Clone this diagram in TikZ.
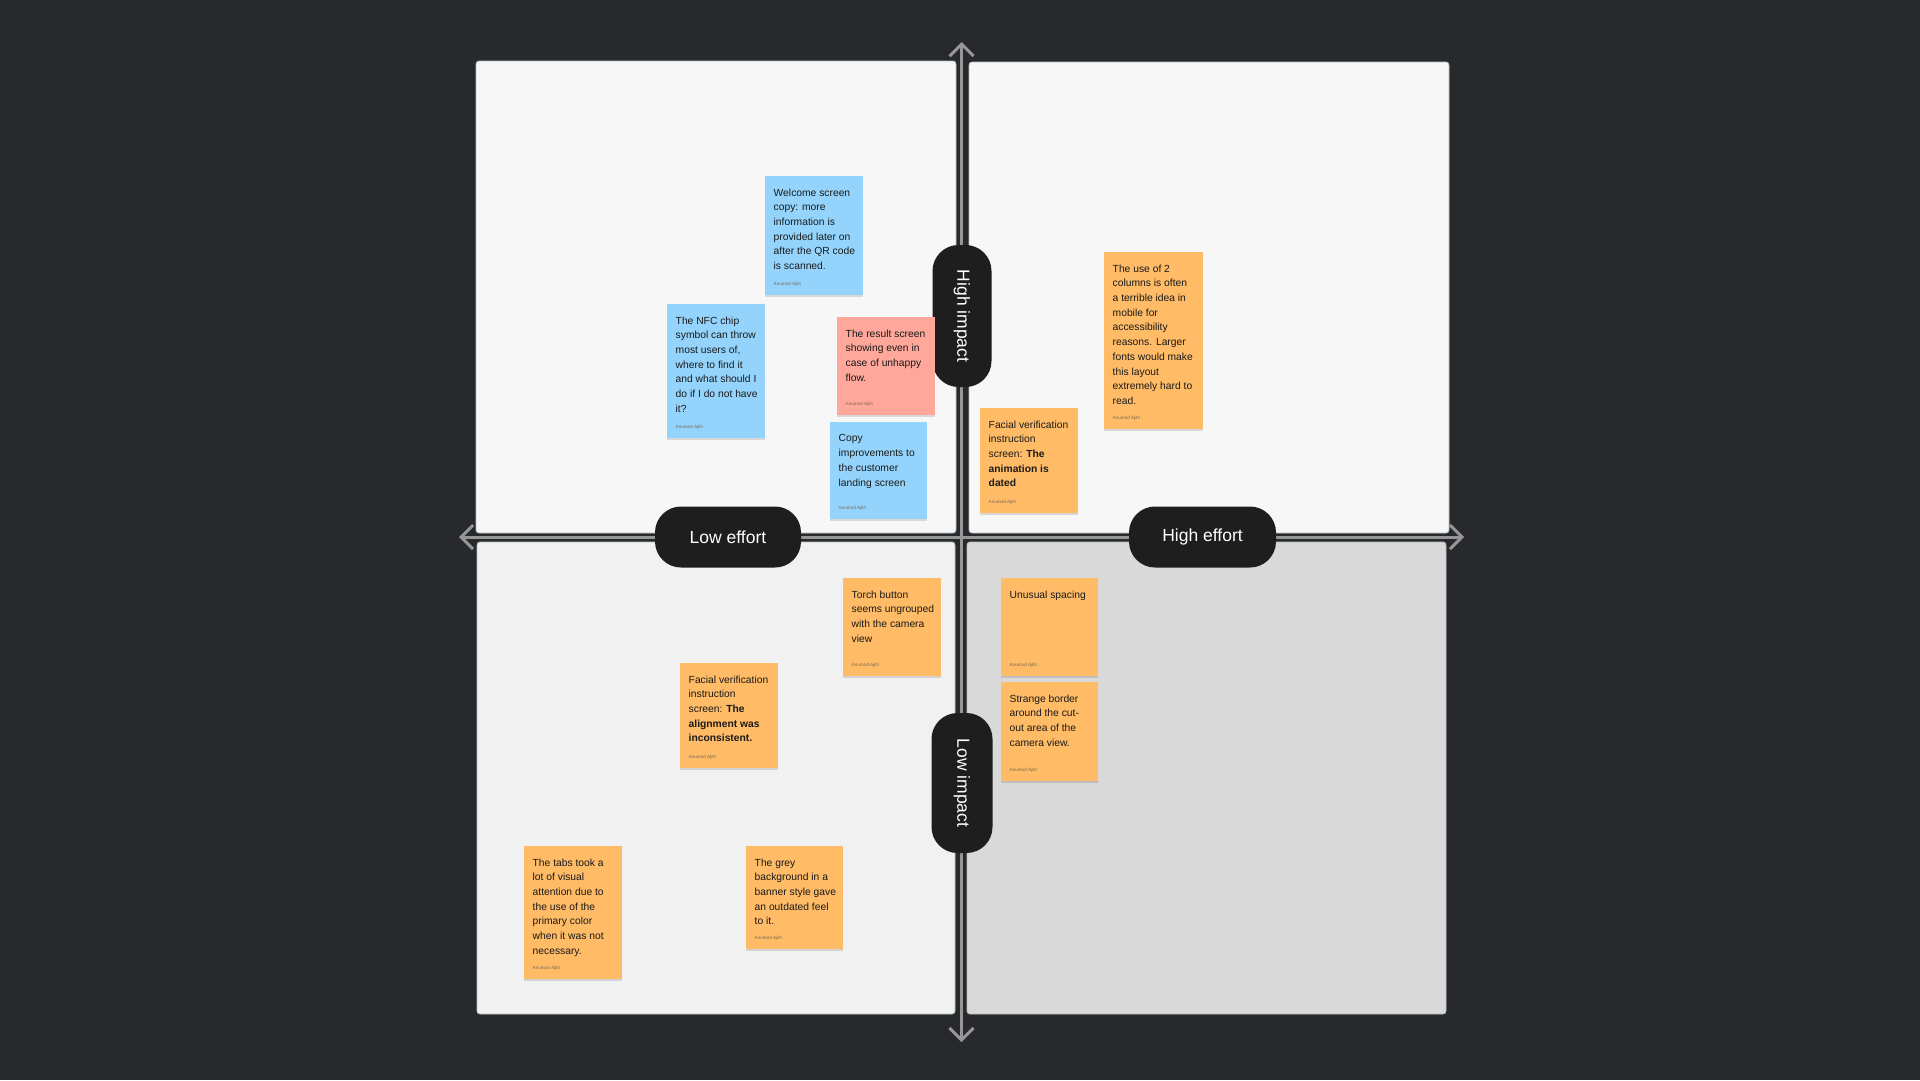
\documentclass[tikz,border=0pt]{standalone}
\usepackage{fontspec}
\setmainfont{Liberation Sans}
\usetikzlibrary{arrows.meta,shadows}
\definecolor{bgdark}{HTML}{27292D}
\definecolor{panelA}{HTML}{F7F7F7}
\definecolor{panelB}{HTML}{F1F1F1}
\definecolor{panelC}{HTML}{D9D9D9}
\definecolor{panelline}{HTML}{B4C2BC}
\definecolor{axisgray}{HTML}{969696}
\definecolor{pillfill}{HTML}{1E1E1E}
\definecolor{sblue}{HTML}{94D4FC}
\definecolor{sred}{HTML}{FFA79B}
\definecolor{sorange}{HTML}{FFBB66}
\definecolor{stext}{HTML}{1A1A1A}
\definecolor{sauthor}{HTML}{7A6A55}
\tikzset{
  panel/.style={fill=#1, draw=panelline, line width=0.8pt, rounded corners=3pt},
  axisline/.style={draw=axisgray, line width=3pt,
    {Straight Barb[length=12pt,width=24pt]}-{Straight Barb[length=12pt,width=24pt]}},
  pill/.style={fill=pillfill, rounded corners=26pt, text=white, inner sep=0pt,
    font=\fontsize{17.5}{20}\selectfont},
  sticky/.style={fill=#1, draw=none, inner sep=0pt, anchor=north west,
    drop shadow={shadow xshift=0pt, shadow yshift=-1.5pt, opacity=0.12, fill=black}},
  stickytext/.style={anchor=north west, inner sep=0pt, align=left, text=stext,
    font=\fontsize{10.3}{14.7}\selectfont},
  author/.style={anchor=west, inner sep=0pt, text=sauthor, font=\fontsize{4.6}{5}\selectfont},
}
\newcommand{\stickynote}[7]{%
  \node[sticky=#6, minimum width=#4pt, minimum height=#5pt] (#1) at (#2,#3) {};
  \node[stickytext] (#1-t) at ([shift={(8.5,12.5)}]#1.north west) {#7};
  \node[author] (#1-a) at ([shift={(8.5,-11)}]#1.south west) {Anumod Ajith};
}
\begin{document}
\begin{tikzpicture}[x=1pt,y=-1pt]
\fill[bgdark] (0,0) rectangle (1920,1080);
\useasboundingbox (0,0) rectangle (1920,1080);
% panels
\draw[panel=panelA] (476,61) rectangle (956,533);
\draw[panel=panelA] (969,62) rectangle (1449,533);
\draw[panel=panelB] (477,542) rectangle (955,1014);
\draw[panel=panelC] (967,542) rectangle (1446,1014);
% axes
\coordinate (vtop) at (961.5,42);
\coordinate (vbot) at (961.5,1042);
\coordinate (hleft) at (459,537);
\coordinate (hright) at (1464,537);
\draw[axisline] (vbot) -- (vtop);
\draw[axisline] (hleft) -- (hright);
% pills
\node[pill, minimum width=146pt, minimum height=61pt] (loweffort) at (728,537) {Low effort};
\node[pill, minimum width=147pt, minimum height=61pt] (higheffort) at (1202.5,537) {High effort};
\node[pill, rotate=-90, minimum width=142pt, minimum height=59pt] (highimpact) at (962,316) {High impact};
\node[pill, rotate=-90, minimum width=140pt, minimum height=61pt] (lowimpact) at (962,783) {Low impact};
% stickies
\stickynote{welcome}{765}{176}{98}{119}{sblue}{Welcome screen\\copy: more\\information is\\provided later on\\after the QR code\\is scanned.}
\stickynote{nfc}{667}{304}{98}{134}{sblue}{The NFC chip\\symbol can throw\\most users of,\\where to find it\\and what should I\\do if I do not have\\it?}
\stickynote{result}{837}{317}{98}{98}{sred}{The result screen\\showing even in\\case of unhappy\\flow.}
\stickynote{copy}{830}{422}{97}{97}{sblue}{Copy\\improvements to\\the customer\\landing screen}
\stickynote{facanim}{980}{408}{98}{105}{sorange}{Facial verification\\instruction\\screen: \textbf{The}\\\textbf{animation is}\\\textbf{dated}}
\stickynote{columns}{1104}{252}{99}{177}{sorange}{The use of 2\\columns is often\\a terrible idea in\\mobile for\\accessibility\\reasons. Larger\\fonts would make\\this layout\\extremely hard to\\read.}
\stickynote{torch}{843}{578}{98}{98}{sorange}{Torch button\\seems ungrouped\\with the camera\\view}
\stickynote{facalign}{680}{663}{98}{105}{sorange}{Facial verification\\instruction\\screen: \textbf{The}\\\textbf{alignment was}\\\textbf{inconsistent.}}
\stickynote{spacing}{1001}{578}{97}{98}{sorange}{Unusual spacing}
\stickynote{border}{1001}{682}{97}{99}{sorange}{Strange border\\around the cut-\\out area of the\\camera view.}
\stickynote{tabs}{524}{846}{98}{133}{sorange}{The tabs took a\\lot of visual\\attention due to\\the use of the\\primary color\\when it was not\\necessary.}
\stickynote{grey}{746}{846}{97}{103}{sorange}{The grey\\background in a\\banner style gave\\an outdated feel\\to it.}
\end{tikzpicture}
\end{document}
